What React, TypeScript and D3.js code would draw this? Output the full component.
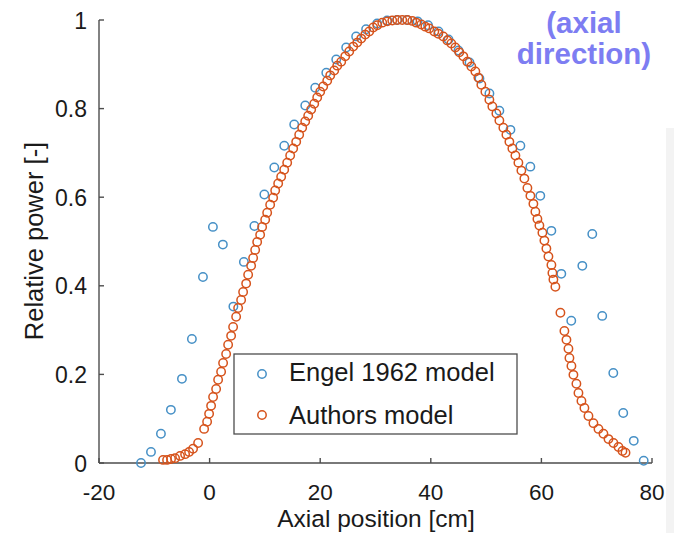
import React from "react";
import * as d3 from "d3";

const engelX = [-12.4, -10.6, -8.8, -7.0, -5.0, -3.2, -1.2, 0.6, 2.4, 4.3, 6.2, 8.1, 9.9, 11.7, 13.5, 15.3, 17.3, 19.1, 21.1, 22.9, 24.7, 26.5, 28.3, 30.3, 32.1, 33.9, 35.7, 37.6, 39.5, 41.4, 43.2, 45.0, 47.0, 48.8, 50.6, 52.4, 54.4, 56.2, 58.0, 59.8, 61.8, 63.6, 65.4, 67.4, 69.2, 71.0, 73.0, 74.8, 76.7, 78.5];
const engelY = [0.0, 0.025, 0.066, 0.12, 0.19, 0.28, 0.42, 0.533, 0.493, 0.353, 0.454, 0.535, 0.606, 0.667, 0.716, 0.764, 0.807, 0.847, 0.881, 0.911, 0.938, 0.963, 0.979, 0.992, 0.999, 1.0, 1.0, 0.997, 0.988, 0.974, 0.956, 0.931, 0.904, 0.868, 0.834, 0.795, 0.752, 0.716, 0.669, 0.603, 0.524, 0.427, 0.321, 0.445, 0.517, 0.332, 0.203, 0.113, 0.05, 0.005];

const authorsX = [-8.42, -7.69, -6.97, -6.24, -5.34, -4.43, -3.71, -2.99, -2.08, -0.99, -0.45, -0.09, 0.27, 0.63, 1.18, 1.54, 2.08, 2.44, 2.99, 3.35, 3.89, 4.25, 4.8, 5.16, 5.7, 6.06, 6.61, 6.97, 7.51, 7.87, 8.24, 8.6, 9.14, 9.5, 10.05, 10.41, 10.95, 11.49, 11.86, 12.4, 12.94, 13.49, 14.03, 14.57, 15.11, 15.66, 16.2, 16.74, 17.29, 17.83, 18.37, 18.92, 19.46, 20.0, 20.54, 21.27, 21.81, 22.54, 23.08, 23.8, 24.53, 25.25, 25.97, 26.7, 27.42, 28.15, 28.87, 29.59, 30.32, 31.22, 32.13, 33.03, 33.94, 34.84, 35.75, 36.65, 37.38, 38.28, 39.01, 39.73, 40.64, 41.36, 42.26, 42.99, 43.71, 44.44, 45.16, 45.88, 46.61, 47.33, 48.06, 48.6, 49.14, 49.87, 50.59, 51.13, 51.86, 52.4, 53.12, 53.67, 54.21, 54.75, 55.3, 55.84, 56.38, 56.92, 57.47, 58.01, 58.55, 58.91, 59.28, 59.64, 60.18, 60.54, 60.9, 61.27, 61.81, 61.99, 62.17, 62.53, 63.44, 64.16, 64.53, 64.89, 65.07, 65.43, 65.79, 66.33, 66.7, 67.24, 67.78, 68.51, 69.41, 70.32, 71.22, 72.13, 73.03, 73.94, 74.66, 75.21];
const authorsY = [0.007, 0.007, 0.009, 0.011, 0.016, 0.02, 0.025, 0.032, 0.045, 0.077, 0.093, 0.111, 0.129, 0.149, 0.167, 0.188, 0.206, 0.226, 0.246, 0.267, 0.287, 0.307, 0.33, 0.35, 0.368, 0.386, 0.405, 0.425, 0.445, 0.463, 0.481, 0.499, 0.515, 0.533, 0.549, 0.565, 0.583, 0.599, 0.615, 0.631, 0.646, 0.662, 0.678, 0.694, 0.71, 0.725, 0.741, 0.757, 0.771, 0.784, 0.798, 0.811, 0.825, 0.838, 0.85, 0.863, 0.875, 0.886, 0.897, 0.906, 0.918, 0.929, 0.94, 0.949, 0.958, 0.967, 0.974, 0.983, 0.988, 0.994, 0.997, 0.999, 1.0, 1.0, 1.0, 0.998, 0.994, 0.99, 0.985, 0.981, 0.974, 0.969, 0.963, 0.954, 0.947, 0.938, 0.927, 0.918, 0.906, 0.895, 0.884, 0.87, 0.854, 0.838, 0.82, 0.805, 0.789, 0.773, 0.757, 0.741, 0.725, 0.71, 0.694, 0.678, 0.66, 0.642, 0.621, 0.603, 0.585, 0.567, 0.551, 0.536, 0.52, 0.502, 0.484, 0.466, 0.447, 0.429, 0.414, 0.398, 0.339, 0.298, 0.278, 0.258, 0.237, 0.219, 0.199, 0.179, 0.158, 0.14, 0.124, 0.106, 0.09, 0.077, 0.066, 0.054, 0.045, 0.036, 0.027, 0.023];

const xTicks = [-20, 0, 20, 40, 60, 80];
const yTicks = [0, 0.2, 0.4, 0.6, 0.8, 1];
const seriesNames = ["Engel 1962 model", "Authors model"];
const xTitle = "Axial position [cm]";
const yTitle = "Relative power [-]";
const noteLines = ["(axial", "direction)"];

const W = 674;
const H = 533;
const BLUE = "#4690c6";
const ORANGE = "#d6531c";
const AXIS = "#4d4d4d";
const FONT = "'Liberation Sans', Arial, Helvetica, sans-serif";

export default function App() {
  const x = d3.scaleLinear().domain([-20, 80]).range([99, 652]);
  const y = d3.scaleLinear().domain([0, 1]).range([463, 20]);
  const r = 4.2;
  const sw = 1.5;

  return (
    <div style={{ position: "absolute", left: 0, top: 0 }}>
      <svg width={W} height={H} style={{ display: "block", background: "#fff" }}>
        <rect x={0} y={0} width={W} height={H} fill="#fff" />
        <rect x={666} y={128} width={8} height={405} fill="#f3f3f3" />

        {/* axes */}
        <line x1={x(-20)} y1={y(0)} x2={x(-20)} y2={y(1)} stroke={AXIS} strokeWidth={1.4} />
        <line x1={x(-20)} y1={y(0)} x2={x(80)} y2={y(0)} stroke={AXIS} strokeWidth={1.4} />
        {yTicks.map((t) => (
          <g key={"y" + t}>
            <line x1={x(-20)} x2={x(-20) + 5} y1={y(t)} y2={y(t)} stroke={AXIS} strokeWidth={1.4} />
            <text x={87} y={y(t) + 8.5} textAnchor="end" fontFamily={FONT} fontSize={23} fill="#1a1a1a">
              {d3.format("")(t)}
            </text>
          </g>
        ))}
        {xTicks.map((t) => (
          <g key={"x" + t}>
            <line x1={x(t)} x2={x(t)} y1={y(0)} y2={y(0) - 5} stroke={AXIS} strokeWidth={1.4} />
            <text x={x(t)} y={500} textAnchor="middle" fontFamily={FONT} fontSize={22.5} fill="#1a1a1a">
              {t}
            </text>
          </g>
        ))}
        <text x={376} y={527} textAnchor="middle" fontFamily={FONT} fontSize={24.5} fill="#1a1a1a">
          {xTitle}
        </text>
        <text
          transform={`translate(43, 241) rotate(-90)`}
          textAnchor="middle"
          fontFamily={FONT}
          fontSize={25.5}
          fill="#1a1a1a"
        >
          {yTitle}
        </text>

        {/* data */}
        {engelX.map((v, i) => (
          <circle key={"e" + i} cx={x(v)} cy={y(engelY[i])} r={r} fill="none" stroke={BLUE} strokeWidth={sw} />
        ))}
        {authorsX.map((v, i) => (
          <circle key={"a" + i} cx={x(v)} cy={y(authorsY[i])} r={r} fill="none" stroke={ORANGE} strokeWidth={sw} />
        ))}

        {/* legend */}
        <rect x={234} y={354} width={283} height={80} fill="#fff" stroke={AXIS} strokeWidth={1.3} />
        <circle cx={262} cy={374} r={r} fill="none" stroke={BLUE} strokeWidth={sw} />
        <text x={289} y={381} fontFamily={FONT} fontSize={25.5} fill="#1a1a1a">
          {seriesNames[0]}
        </text>
        <circle cx={262} cy={415} r={r} fill="none" stroke={ORANGE} strokeWidth={sw} />
        <text x={289} y={424} fontFamily={FONT} fontSize={25.5} fill="#1a1a1a">
          {seriesNames[1]}
        </text>

        {/* note */}
        <text x={584} y={33} textAnchor="middle" fontFamily={FONT} fontWeight="bold" fontSize={29.5} fill="#7d7df2">
          {noteLines[0]}
        </text>
        <text x={584} y={64} textAnchor="middle" fontFamily={FONT} fontWeight="bold" fontSize={29.5} fill="#7d7df2">
          {noteLines[1]}
        </text>
      </svg>
    </div>
  );
}
